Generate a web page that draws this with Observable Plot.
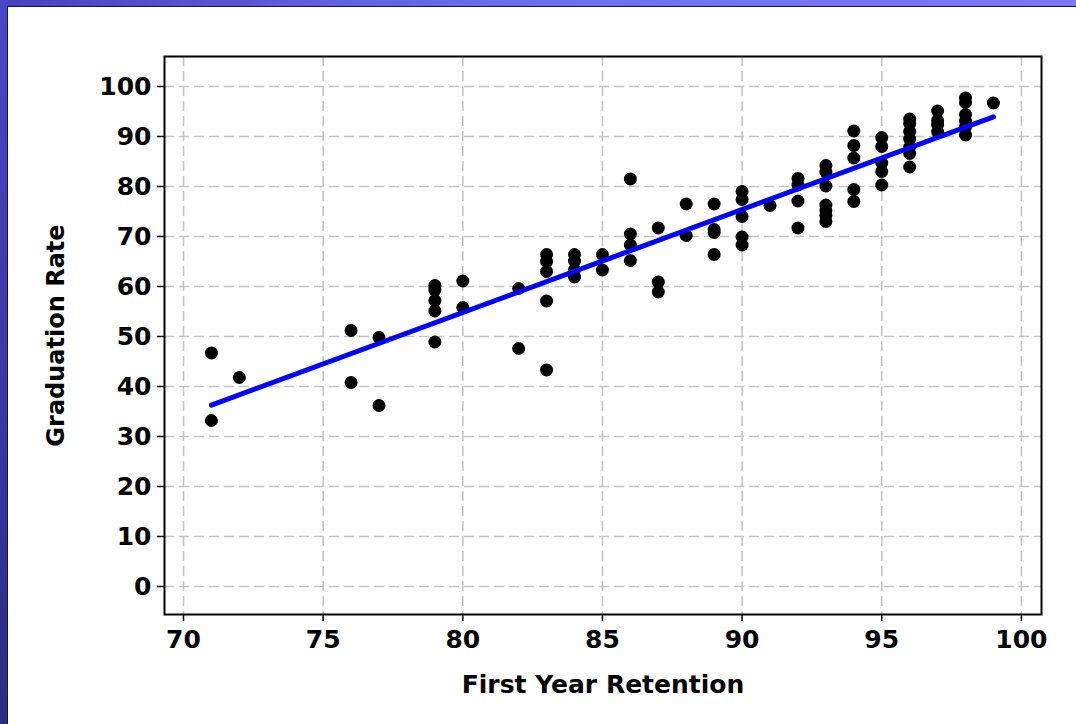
<!DOCTYPE html>
<html>
<head>
<meta charset="utf-8">
<script src="https://cdn.jsdelivr.net/npm/d3@7"></script>
<script src="https://cdn.jsdelivr.net/npm/@observablehq/plot@0.6"></script>
<style>
  html, body { margin: 0; padding: 0; }
  body { width: 1076px; height: 724px; position: relative; overflow: hidden;
         background: linear-gradient(90deg, #4444bc 0%, #6c6cf2 45%, #7a7af8 100%); }
  #leftstrip { position: absolute; left: 0; top: 0; width: 8px; height: 724px;
         background: linear-gradient(180deg, #4848c4 0%, #3a3aa6 50%, #2c2c80 100%); }
  #panel { position: absolute; left: 7px; top: 6px; right: 0; bottom: 0; background: #ffffff;
         border-top: 1px solid #151540; border-left: 1px solid #151540; }
  #chart { position: absolute; left: 0; top: 0; }
</style>
</head>
<body>
<div id="leftstrip"></div>
<div id="panel"></div>
<div id="chart"></div>
<script>
// First Year Retention (%) for each institution
const retention = [
  71, 71,
  72,
  76, 76,
  77, 77,
  79, 79, 79, 79, 79,
  80, 80,
  82, 82,
  83, 83, 83, 83, 83,
  84, 84, 84, 84,
  85, 85,
  86, 86, 86, 86,
  87, 87, 87,
  88, 88,
  89, 89, 89, 89,
  90, 90, 90, 90, 90,
  91,
  92, 92, 92, 92,
  93, 93, 93, 93, 93, 93, 93,
  94, 94, 94, 94, 94,
  95, 95, 95, 95, 95,
  96, 96, 96, 96, 96, 96, 96,
  97, 97, 97, 97,
  98, 98, 98, 98, 98, 98,
  99
];
// Graduation Rate (%) for each institution
const graduation = [
  46.7, 33.2,
  41.8,
  51.2, 40.8,
  49.8, 36.2,
  60.2, 59.3, 57.2, 55.1, 48.9,
  61.1, 55.8,
  59.6, 47.6,
  66.4, 65.0, 63.0, 57.1, 43.3,
  66.4, 65.1, 63.4, 61.9,
  66.4, 63.3,
  81.5, 70.5, 68.3, 65.2,
  71.7, 60.9, 58.9,
  76.5, 70.2,
  76.5, 71.4, 70.8, 66.4,
  79.0, 77.4, 74.0, 69.9, 68.3,
  76.2,
  81.6, 80.3, 77.1, 71.7,
  84.2, 82.9, 80.1, 76.3, 75.2, 74.2, 73.0,
  91.1, 88.2, 85.7, 79.4, 77.0,
  89.8, 88.0, 84.7, 83.0, 80.3,
  93.5, 92.6, 91.0, 89.5, 87.9, 86.6, 83.9,
  95.1, 93.2, 92.3, 90.9,
  97.7, 96.8, 94.4, 93.1, 91.9, 90.3,
  96.7
];
const xTicks = [70, 75, 80, 85, 90, 95, 100];
const yTicks = [0, 10, 20, 30, 40, 50, 60, 70, 80, 90, 100];
const xLabel = "First Year Retention";
const yLabel = "Graduation Rate";

const data = retention.map((r, i) => ({retention: r, graduation: graduation[i]}));

const font = "'DejaVu Sans', Verdana, sans-serif";
const chart = Plot.plot({
  width: 1076,
  height: 724,
  marginLeft: 164,
  marginRight: 35,
  marginTop: 56,
  marginBottom: 110,
  style: {fontFamily: font, fontSize: "25px", fontWeight: "bold", color: "#000", background: "transparent"},
  x: {domain: [69.32, 100.72]},
  y: {domain: [-5.6, 106]},
  marks: [
    Plot.gridX(xTicks, {stroke: "#c4c4c4", strokeOpacity: 1, strokeWidth: 1.6, strokeDasharray: "10,5"}),
    Plot.gridY(yTicks, {stroke: "#c4c4c4", strokeOpacity: 1, strokeWidth: 1.6, strokeDasharray: "10,5"}),
    Plot.axisX(xTicks, {tickSize: 7, tickPadding: 9, label: null, strokeWidth: 1.5}),
    Plot.axisY(yTicks, {tickSize: 7, tickPadding: 6, label: null, strokeWidth: 1.5}),
    Plot.dot(data, {x: "retention", y: "graduation", r: 6.5, fill: "#000", stroke: null}),
    Plot.linearRegressionY(data, {x: "retention", y: "graduation", stroke: "#0000ff", strokeWidth: 5, ci: 0}),
    Plot.frame({stroke: "#000", strokeWidth: 2}),
    Plot.text([xLabel], {frameAnchor: "bottom", dy: 78, fontSize: 25, fontWeight: "bold", fill: "#000"}),
    Plot.text([yLabel], {frameAnchor: "left", textAnchor: "middle", dx: -108, rotate: -90, fontSize: 24, fontWeight: "bold", fill: "#000"})
  ]
});
document.getElementById("chart").appendChild(chart);
</script>
</body>
</html>
